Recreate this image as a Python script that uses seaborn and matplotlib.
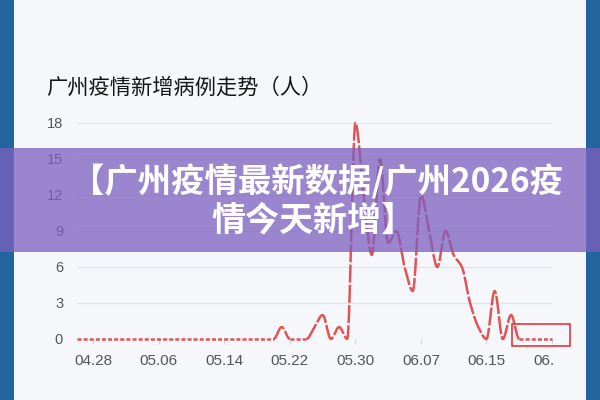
import numpy as np
import pandas as pd
import matplotlib
matplotlib.use("Agg")
import matplotlib.pyplot as plt
import seaborn as sns
from matplotlib.patches import Rectangle
from matplotlib.transforms import Bbox

# ---------------- data ----------------
dates = [d.strftime("%m.%d") for d in pd.date_range("2026-04-26", "2026-06-23")]
cases = [0, 0, 0, 0, 0, 0, 0, 0, 0, 0,      # 04.26 - 05.05
         0, 0, 0, 0, 0, 0, 0, 0, 0, 0,      # 05.06 - 05.15
         0, 0, 0, 0, 0, 1, 0, 0, 0, 1,      # 05.16 - 05.25
         2, 0, 1, 0, 18, 12, 7, 15, 8, 9,   # 05.26 - 06.04
         6, 4, 12, 9, 6, 9, 7, 6, 3, 1,     # 06.05 - 06.14
         0, 4, 0, 2, 0, 0, 0, 0, 0]         # 06.15 - 06.23
tick_labels = ["04.28", "05.06", "05.14", "05.22", "05.30", "06.07", "06.15", "06.23"]
y_ticks = [0, 3, 6, 9, 12, 15, 18]
title = "广州疫情新增病例走势（人）"
banner_lines = ["【广州疫情最新数据/广州2026疫", "情今天新增】"]

# ---------------- style ----------------
sns.set_theme(style="white")
plt.rcParams["font.family"] = ["Noto Sans CJK SC", "DejaVu Sans"]
plt.rcParams["lines.scale_dashes"] = False

RED = "#de5555"
CARD = "#f6f7fb"
BLUE = "#23649f"

W, H = 600, 400
fig = plt.figure(figsize=(6, 4), dpi=100, facecolor=CARD)


def px(x0, y0, w, h):
    """pixel box (top-left origin) -> figure fraction rect"""
    return [x0 / W, (H - y0 - h) / H, w / W, h / H]


# side strips of the photo frame
for rx in (0, 586):
    r = px(rx, 0, 14, 400)
    fig.add_artist(Rectangle((r[0], r[1]), r[2], r[3], transform=fig.transFigure,
                             facecolor=BLUE, edgecolor="none", zorder=1))

ax = fig.add_axes(px(77, 123, 475, 216))
ax.set_facecolor("none")
ax.set_zorder(2)

# smooth monotone rendering of the series
x = np.arange(len(cases), dtype=float)
y = np.asarray(cases, dtype=float)
d = np.diff(y)
m = np.zeros_like(y)
for k in range(1, len(y) - 1):
    if d[k - 1] * d[k] > 0:
        m[k] = 2.0 / (1.0 / d[k - 1] + 1.0 / d[k])

def seg_curve(k, n=30):
    t = np.linspace(0, 1, n)
    h00 = 2 * t**3 - 3 * t**2 + 1
    h10 = t**3 - 2 * t**2 + t
    h01 = -2 * t**3 + 3 * t**2
    h11 = t**3 - t**2
    yy = h00 * y[k] + h10 * m[k] + h01 * y[k + 1] + h11 * m[k + 1]
    return x[k] + t, yy

flat = [(y[k] == 0 and y[k + 1] == 0) for k in range(len(y) - 1)]
runs = []
start = 0
for k in range(1, len(flat) + 1):
    if k == len(flat) or flat[k] != flat[start]:
        runs.append((start, k - 1, flat[start]))
        start = k

for a, b, is_flat in runs:
    xs, ys = [], []
    for k in range(a, b + 1):
        sx, sy = seg_curve(k)
        if k > a:
            sx, sy = sx[1:], sy[1:]
        xs.append(sx)
        ys.append(sy)
    xs = np.concatenate(xs)
    ys = np.concatenate(ys)
    ls = (0, (2.9, 1.5)) if is_flat else (0, (13, 1.6))
    sns.lineplot(x=xs, y=ys, ax=ax, color=RED, linewidth=1.8, linestyle=ls,
                 sort=False, estimator=None, legend=False, clip_on=False,
                 solid_capstyle="butt", dash_capstyle="butt")

ax.set_xlim(0, len(cases) - 1)
ax.set_ylim(0, 18)
ax.set_yticks(y_ticks)
ax.set_yticklabels([str(v) for v in y_ticks])
tick_pos = [dates.index(lbl) for lbl in tick_labels]
ax.set_xticks(tick_pos)
ax.set_xticklabels(tick_labels)
ax.grid(axis="y", color="#e0e2e9", linewidth=0.8)
ax.grid(axis="x", visible=False)
ax.set_axisbelow(True)
for s in ax.spines.values():
    s.set_visible(False)
ax.set_xlabel("")
ax.set_ylabel("")
ax.tick_params(axis="y", length=0, pad=10, labelsize=10.5, labelcolor="#555555")
ax.tick_params(axis="x", length=3.6, width=0.8, color="#cfd3dc", pad=7,
               labelsize=11, labelcolor="#555555", bottom=True)
for lbl in ax.get_xticklabels() + ax.get_yticklabels():
    lbl.set_fontfamily(["Liberation Sans", "DejaVu Sans"])
# last date label is cut off by the chart's edge
last = ax.get_xticklabels()[-1]
last.set_clip_on(True)
last.set_clip_box(Bbox.from_extents(0, 0, 553, 400))

# title
fig.text(46 / W, (H - 88) / H, title, fontsize=15.3, fontweight="medium",
         color="#151515", ha="left", va="center", zorder=3)

# red highlight box
r = px(512, 324, 58, 21.5)
fig.add_artist(Rectangle((r[0], r[1]), r[2], r[3], transform=fig.transFigure,
                         facecolor="none", edgecolor="#e8262b", linewidth=1.1, zorder=4))

# purple banner
r = px(0, 148, 600, 104)
fig.add_artist(Rectangle((r[0], r[1]), r[2], r[3], transform=fig.transFigure,
                         facecolor="#7d5fc0", alpha=0.75, edgecolor="none", zorder=5))
fig.text(317 / W, (H - 182) / H, banner_lines[0], fontsize=24, fontweight="heavy",
         color="white", ha="center", va="center", zorder=6)
fig.text(313 / W, (H - 220) / H, banner_lines[1], fontsize=24.5, fontweight="heavy",
         color="white", ha="center", va="center", zorder=6)

fig.savefig("out.png", dpi=100, facecolor=CARD)
